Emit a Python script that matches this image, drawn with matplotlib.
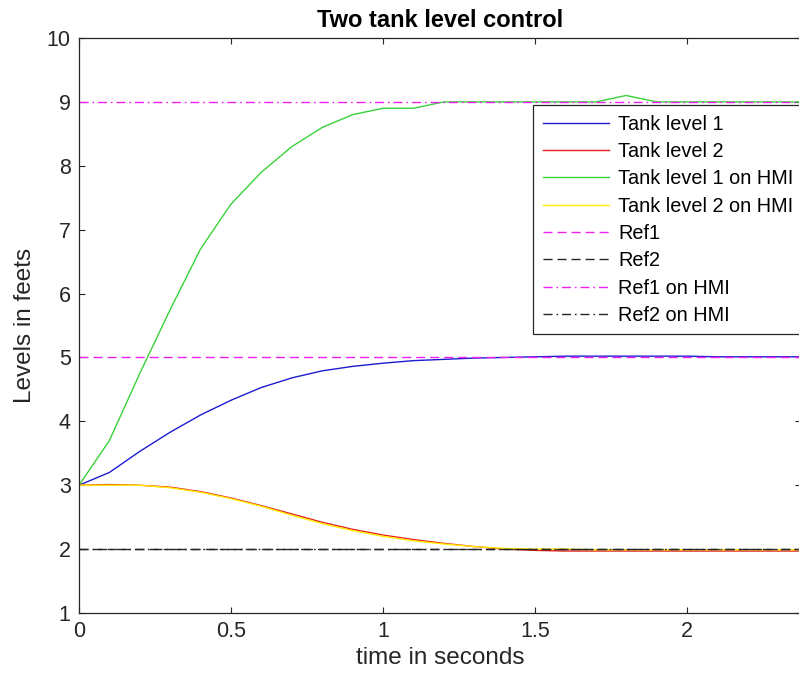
import matplotlib
matplotlib.use("Agg")
import matplotlib.pyplot as plt

plt.rcParams['font.family'] = ['Liberation Sans', 'DejaVu Sans']
plt.rcParams['lines.scale_dashes'] = False

# Simulation time (s)
time_s = [0.0, 0.1, 0.2, 0.3, 0.4, 0.5, 0.6, 0.7, 0.8, 0.9, 1.0, 1.1, 1.2,
          1.3, 1.4, 1.5, 1.6, 1.7, 1.8, 1.9, 2.0, 2.1, 2.2, 2.3, 2.4, 2.5]

# Tank levels (feet)
tank1 = [3.0, 3.2, 3.53, 3.83, 4.1, 4.33, 4.53, 4.68, 4.79, 4.86, 4.91, 4.95, 4.97,
         4.99, 5.0, 5.01, 5.02, 5.02, 5.02, 5.02, 5.02, 5.01, 5.01, 5.01, 5.01, 5.0]
tank2 = [3.0, 3.01, 3.0, 2.97, 2.9, 2.8, 2.68, 2.55, 2.42, 2.31, 2.22, 2.15, 2.09,
         2.04, 2.0, 1.98, 1.97, 1.97, 1.97, 1.97, 1.97, 1.97, 1.97, 1.97, 1.97, 1.97]
tank1_hmi = [3.0, 3.7, 4.75, 5.75, 6.7, 7.4, 7.9, 8.3, 8.6, 8.8, 8.9, 8.9, 9.0,
             9.0, 9.0, 9.0, 9.0, 9.0, 9.1, 9.0, 9.0, 9.0, 9.0, 9.0, 9.0, 9.0]
tank2_hmi = [3.0, 3.0, 3.0, 2.96, 2.89, 2.79, 2.67, 2.53, 2.4, 2.29, 2.2, 2.13, 2.08,
             2.04, 2.01, 2.0, 2.0, 1.99, 1.99, 1.99, 1.99, 1.99, 1.99, 1.99, 1.99, 1.99]

# Set points (feet)
ref1 = 5.0
ref2 = 2.0
ref1_hmi = 9.0
ref2_hmi = 2.0

x_ticks = [0, 0.5, 1, 1.5, 2]
y_ticks = [1, 2, 3, 4, 5, 6, 7, 8, 9, 10]

W, H = 799, 682
fig = plt.figure(figsize=(W / 100, H / 100), dpi=100)
ax_left, ax_right, ax_top, ax_bottom = 79, 801, 38, 613
ax = fig.add_axes([ax_left / W, 1 - ax_bottom / H,
                   (ax_right - ax_left) / W, (ax_bottom - ax_top) / H])

lw = 1.0
dash = (0, (6.5, 3.6))
dashdot = (0, (6.5, 2.8, 1.2, 2.8))

ax.plot(time_s, tank1, color='#1c1cd0', lw=lw, label='Tank level 1')
ax.plot(time_s, tank2, color='#e81e1e', lw=lw, label='Tank level 2')
ax.plot(time_s, tank1_hmi, color='#3ad23a', lw=lw, label='Tank level 1 on HMI')
ax.plot(time_s, tank2_hmi, color='#ffee00', lw=lw, label='Tank level 2 on HMI')
ax.axhline(ref1, color='#f020f0', lw=lw, ls=dash, label='Ref1')
ax.axhline(ref2, color='#262626', lw=lw, ls=dash, label='Ref2')
ax.axhline(ref1_hmi, color='#f020f0', lw=lw, ls=dashdot, label='Ref1 on HMI')
ax.axhline(ref2_hmi, color='#262626', lw=lw, ls=dashdot, label='Ref2 on HMI')

ax.set_xlim(0, (ax_right - ax_left) / 304.0)
ax.set_ylim(1, 10)
ax.set_xticks(x_ticks)
ax.set_xticklabels([f"{v:g}" for v in x_ticks])
ax.set_yticks(y_ticks)

for s in ax.spines.values():
    s.set_color('#262626')
    s.set_linewidth(0.9)
ax.tick_params(direction='in', length=4, width=0.8, colors='#262626',
               labelsize=15.5, top=True, right=True, pad=6)

ax.set_title('Two tank level control', fontsize=17, fontweight='bold',
             color='#000000', pad=8)
ax.set_xlabel('time in seconds', fontsize=17.5, color='#262626', labelpad=3)
ax.set_ylabel('Levels in feets', fontsize=17.5, color='#262626', labelpad=8)

leg = ax.legend(loc='upper left',
                bbox_to_anchor=((533 - ax_left) / (ax_right - ax_left),
                                (ax_bottom - 105) / (ax_bottom - ax_top)),
                borderaxespad=0, fontsize=14.3, frameon=True, fancybox=False,
                framealpha=1, edgecolor='#262626', handlelength=3.35,
                handletextpad=0.45, labelspacing=0.42, borderpad=0.48)
leg.get_frame().set_linewidth(0.9)

fig.savefig('out.png', dpi=100)
